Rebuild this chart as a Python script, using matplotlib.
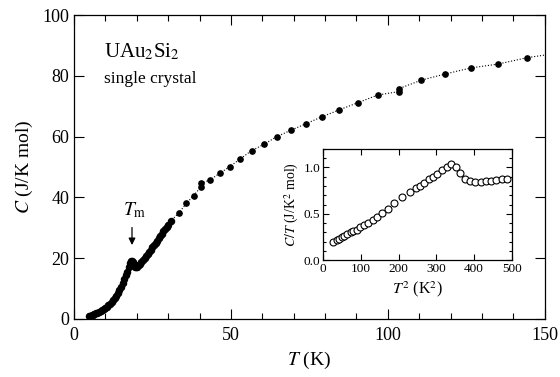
import matplotlib.pyplot as plt
from matplotlib.ticker import MultipleLocator

plt.rcParams['font.family'] = ['Liberation Serif', 'DejaVu Serif']
plt.rcParams['mathtext.fontset'] = 'stix'

# specific heat C(T), dense low-temperature sweep
T_low = [4.8, 5.2, 5.6, 6.0, 6.5, 7.0, 7.5, 8.0, 8.5, 9.0, 9.5, 10.0, 10.5, 11.0,
         11.5, 12.0, 12.5, 13.0, 13.5, 14.0, 14.5, 15.0, 15.5, 16.0, 16.5, 17.0,
         17.5, 18.0, 18.3, 18.6, 18.9, 19.2, 19.5, 19.8, 20.2, 20.6, 21.0, 21.5,
         22.0, 22.5, 23.0, 23.5, 24.0, 24.5, 25.0, 25.5, 26.0, 26.5, 27.0, 27.5,
         28.0, 28.5, 29.0, 29.5, 30.0, 30.8]
C_low = [1.0, 1.1, 1.25, 1.4, 1.6, 1.8, 2.0, 2.3, 2.6, 2.9, 3.3, 3.6, 4.0, 4.5,
         5.0, 5.5, 6.1, 6.8, 7.6, 8.5, 9.5, 10.6, 11.8, 13.0, 14.3, 15.6,
         17.0, 18.3, 19.0, 19.2, 18.6, 17.6, 17.1, 17.0, 17.2, 17.6, 18.0, 18.6,
         19.3, 20.0, 20.7, 21.4, 22.1, 22.8, 23.6, 24.3, 25.0, 25.8, 26.6, 27.3,
         28.1, 28.8, 29.6, 30.3, 31.0, 32.2]

# higher-temperature points
T_high = [33.5, 35.8, 38.1, 40.5, 40.6, 43.4, 46.4, 49.6, 53.0, 56.6, 60.6,
          64.6, 69.1, 73.8, 78.9, 84.5, 90.5, 96.8, 103.4, 103.5, 110.7, 118.2,
          126.4, 135.2, 144.4, 153.0]
C_high = [35.0, 38.0, 40.6, 43.5, 44.6, 45.8, 47.9, 50.1, 52.7, 55.4, 57.5,
          60.0, 62.1, 64.2, 66.5, 68.8, 71.2, 73.7, 74.8, 75.8, 78.6, 80.6,
          82.6, 83.9, 86.0, 87.3]

# inset: C/T vs T^2
T2 = [25.6, 36, 43, 49, 55.5, 64, 73, 80, 89, 98, 108.5, 119, 131, 143.5, 157,
      171, 188, 208, 230, 246, 256.6, 268, 280, 292, 303, 315, 327, 339, 351,
      362, 377, 390, 403, 417, 431, 444, 459, 474, 488]
CT = [0.20, 0.217, 0.23, 0.245, 0.26, 0.28, 0.30, 0.31, 0.33, 0.355, 0.38,
      0.405, 0.435, 0.47, 0.51, 0.55, 0.62, 0.68, 0.74, 0.775, 0.80, 0.83, 0.87,
      0.90, 0.93, 0.97, 1.01, 1.035, 1.01, 0.935, 0.875, 0.85, 0.84, 0.84, 0.85,
      0.855, 0.865, 0.87, 0.875]

T_all = T_low + T_high
C_all = C_low + C_high

fig = plt.figure(figsize=(5.6, 3.77), dpi=100)
ax = fig.add_axes([0.132, 0.154, 0.841, 0.806])

ax.plot(T_all, C_all, ls=':', lw=0.8, color='black')
ax.plot(T_low, C_low, ls='none', marker='o', ms=4.4, color='black')
ax.plot(T_high, C_high, ls='none', marker='o', ms=3.8, color='black')

ax.set_xlim(0, 150)
ax.set_ylim(0, 100)
ax.xaxis.set_major_locator(MultipleLocator(50))
ax.xaxis.set_minor_locator(MultipleLocator(10))
ax.yaxis.set_major_locator(MultipleLocator(20))
ax.tick_params(which='both', direction='in', top=True, right=True, labelsize=13)
ax.tick_params(which='major', length=7, width=0.8)
ax.tick_params(which='minor', length=4, width=0.8)
ax.tick_params(axis='x', pad=6)
for s in ax.spines.values():
    s.set_linewidth(0.9)

ax.set_xlabel('$T$ (K)', fontsize=14, labelpad=4)
ax.set_ylabel('$C$ (J/K mol)', fontsize=14, labelpad=5)

ax.text(9.5, 86, 'UAu$_2$Si$_2$', fontsize=15)
ax.text(9.5, 77.5, 'single crystal', fontsize=12.5)

ax.annotate('', xy=(18.5, 23.4), xytext=(18.5, 31),
            arrowprops=dict(arrowstyle='-|>', color='black', lw=0.9,
                            mutation_scale=10))
ax.text(19.5, 34.2, '$T_{\\rm m}$', fontsize=14, ha='center')

# inset
ins = fig.add_axes([0.577, 0.310, 0.337, 0.295])
ins.plot(T2, CT, ls='none', marker='o', ms=5, mfc='white', mec='black', mew=0.8)
ins.set_xlim(0, 500)
ins.set_ylim(0, 1.2)
ins.xaxis.set_major_locator(MultipleLocator(100))
ins.yaxis.set_major_locator(MultipleLocator(0.5))
ins.yaxis.set_minor_locator(MultipleLocator(0.1))
ins.yaxis.set_major_formatter(plt.FormatStrFormatter('%.1f'))
ins.tick_params(which='both', direction='in', top=True, right=True, labelsize=9.5, pad=2)
ins.tick_params(which='major', length=4, width=0.8)
ins.tick_params(which='minor', length=2.5, width=0.8)
for s in ins.spines.values():
    s.set_linewidth(0.9)
ins.set_xlabel('$T^2$ (K$^2$)', fontsize=11.5, labelpad=3)
ins.set_ylabel('$C/T$ (J/K$^2$ mol)', fontsize=10, labelpad=2)

fig.savefig('out.png', dpi=100)
